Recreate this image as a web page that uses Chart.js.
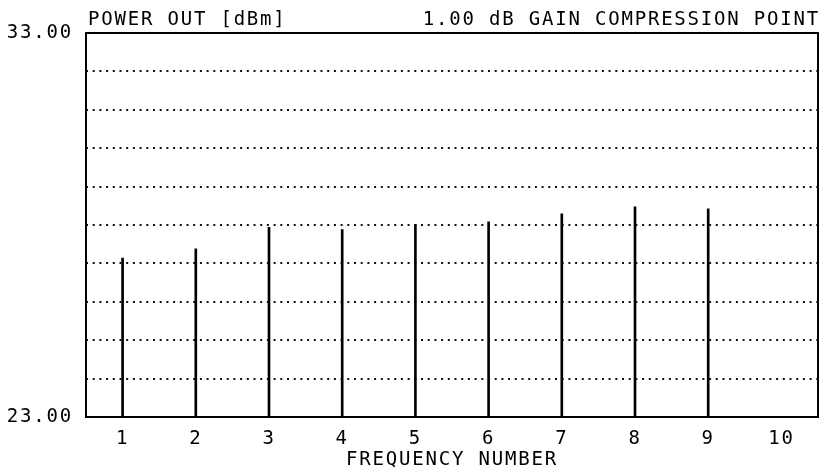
<!DOCTYPE html>
<html>
<head>
<meta charset="utf-8">
<script src="https://cdn.jsdelivr.net/npm/chart.js@4"></script>
<style>
  html, body { margin: 0; padding: 0; background: #fff; }
  #wrap { width: 824px; height: 472px; }
</style>
</head>
<body>
<div id="wrap"><canvas id="gain-chart" width="824" height="472"></canvas></div>
<script>
// Frequency numbers along the x axis
const freqNumbers = ['1', '2', '3', '4', '5', '6', '7', '8', '9', '10'];
// Power out at 1 dB compression, dBm (no reading at 10)
const powerOut = [27.14, 27.38, 27.94, 27.88, 28.01, 28.08, 28.29, 28.47, 28.42, null];
// Only the ends of the y axis are labelled
const yLabelled = [23, 33];

const FONT = 'DejaVu Sans Mono';
const SPACING = '1.8px';

// plotter look: wide letter spacing, box round the plot, two header texts
const plotterPlugin = {
    id: 'plotter',
    beforeDraw(chart) {
        chart.ctx.letterSpacing = SPACING;
    },
    afterDraw(chart) {
        const ctx = chart.ctx;
        const area = chart.chartArea;
        ctx.save();
        ctx.strokeStyle = '#000';
        ctx.lineWidth = 2;
        ctx.strokeRect(area.left, area.top, area.right - area.left, area.bottom - area.top);
        ctx.fillStyle = '#000';
        ctx.font = '19px "' + FONT + '"';
        ctx.letterSpacing = SPACING;
        ctx.textBaseline = 'alphabetic';
        ctx.textAlign = 'left';
        ctx.fillText('POWER OUT [dBm]', area.left + 2, 25);
        ctx.textAlign = 'right';
        ctx.fillText('1.00 dB GAIN COMPRESSION POINT', area.right + 2, 25);
        ctx.restore();
    }
};

const gainCtx = document.getElementById('gain-chart').getContext('2d');
const gainChart = new Chart(gainCtx, {
    type: 'bar',
    data: {
        labels: freqNumbers,
        datasets: [{
            label: 'Power Out (dBm)',
            data: powerOut,
            backgroundColor: '#000',
            borderWidth: 0,
            barThickness: 2
        }]
    },
    options: {
        responsive: false,
        animation: false,
        layout: { padding: { top: 33, right: 6, left: 0, bottom: 0 } },
        plugins: {
            legend: { display: false },
            tooltip: { enabled: false }
        },
        scales: {
            x: {
                offset: true,
                grid: { display: false, drawTicks: false },
                border: { display: false },
                ticks: {
                    color: '#000',
                    padding: 11,
                    maxRotation: 0,
                    font: { family: FONT, size: 19 }
                },
                title: {
                    display: true,
                    text: 'FREQUENCY NUMBER',
                    color: '#000',
                    padding: { top: 0, bottom: 1 },
                    font: { family: FONT, size: 19 }
                },
                afterFit(scale) { scale.height = 55; }
            },
            y: {
                min: 23,
                max: 33,
                grid: {
                    color: '#111',
                    lineWidth: 2,
                    drawTicks: false
                },
                border: { display: false, dash: [2, 4.7] },
                ticks: {
                    stepSize: 1,
                    color: '#000',
                    padding: 13,
                    font: { family: FONT, size: 19 },
                    callback: (v) => yLabelled.includes(v) ? v.toFixed(2) : ''
                },
                afterFit(scale) { scale.width = 86; }
            }
        }
    },
    plugins: [plotterPlugin]
});
</script>
</body>
</html>
